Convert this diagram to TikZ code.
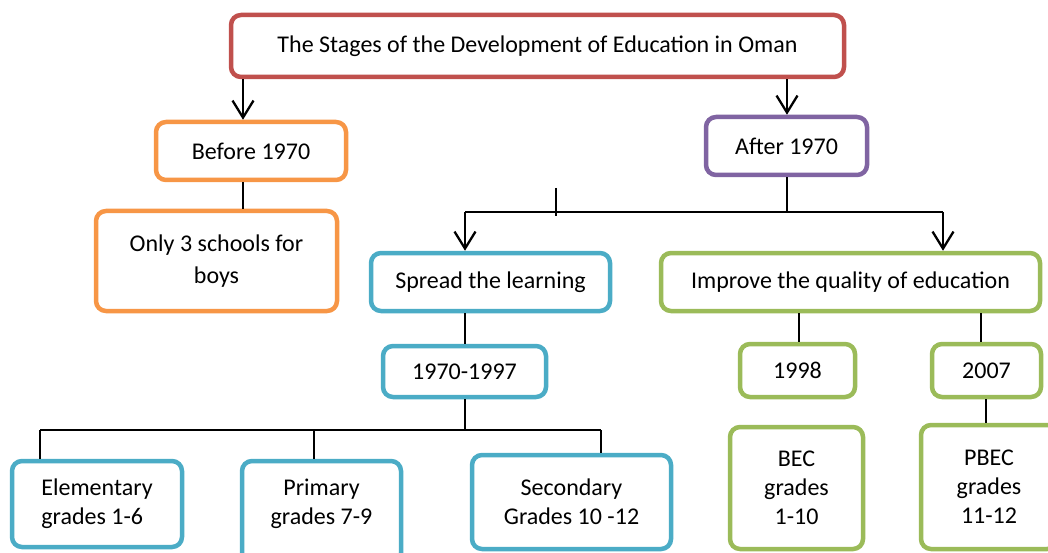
\documentclass[tikz,border=0pt]{standalone}
\usepackage{fontspec}
\setmainfont{Carlito}
\usetikzlibrary{arrows.meta}
\definecolor{cred}{HTML}{C0504D}
\definecolor{corange}{HTML}{F79646}
\definecolor{cpurple}{HTML}{8064A2}
\definecolor{cblue}{HTML}{4BACC6}
\definecolor{cgreen}{HTML}{9BBB59}
\tikzset{
  box/.style={draw, line width=4.5pt, rounded corners=10pt, fill=white, inner sep=0pt,
    align=center, font=\fontsize{24}{29}\selectfont, text=black},
  redbox/.style={box, draw=cred},
  orangebox/.style={box, draw=corange},
  purplebox/.style={box, draw=cpurple},
  bluebox/.style={box, draw=cblue},
  greenbox/.style={box, draw=cgreen},
  txt/.style={inner sep=0pt, align=center, font=\fontsize{24}{29}\selectfont},
  conn/.style={draw=black, line width=2.3pt},
  arr/.style={conn, -{Straight Barb[length=17pt,width=21pt,line width=2.3pt]}}
}
\begin{document}
\begin{tikzpicture}[x=1pt,y=-1pt]
\useasboundingbox (0,0) rectangle (1048,553);
% boxes
\node[redbox, minimum width=613, minimum height=62] (title) at (537.5,46) {The Stages of the Development of Education in Oman};
\node[orangebox, minimum width=190, minimum height=58] (bef) at (251,151) {Before 1970};
\node[orangebox, minimum width=241, minimum height=100] (only) at (216.5,261) {Only 3 schools for\\[3pt]boys};
\node[purplebox, minimum width=161, minimum height=58] (aft) at (786.5,146) {After 1970};
\node[bluebox, minimum width=239, minimum height=58] (spread) at (490.5,282) {Spread the learning};
\node[greenbox, minimum width=379, minimum height=58] (impr) at (850.5,282) {Improve the quality of education};
\node[bluebox, minimum width=163, minimum height=51] (ya) at (464.5,371.5) {1970-1997};
\node[greenbox, minimum width=115, minimum height=53] (yb) at (797.5,370.5) {1998};
\node[greenbox, minimum width=109, minimum height=53] (yc) at (986.5,370.5) {2007};
\node[bluebox, minimum width=170, minimum height=86, align=left] (elem) at (97,504) {Elementary\\grades 1-6};
\node[bluebox, minimum width=159, minimum height=102] (prim) at (321.5,512) {};
\node[txt] (primt) at (321.5,504) {Primary\\grades 7-9};
\node[bluebox, minimum width=199, minimum height=94] (sec) at (571.5,502) {Secondary\\Grades 10 -12};
\node[greenbox, minimum width=133, minimum height=122] (bec) at (796.5,488) {BEC\\grades\\1-10};
\node[greenbox, minimum width=136, minimum height=124] (pbec) at (989,487) {PBEC\\grades\\11-12};
% coordinates
\coordinate (xa) at (243,0);
\coordinate (xb) at (787,0);
\coordinate (busAL) at (465,212);
\coordinate (busAR) at (943,212);
\coordinate (tickT) at (556,188);
\coordinate (tickB) at (556,216);
\coordinate (busBL) at (40,430);
\coordinate (busBM) at (314,430);
\coordinate (busBR) at (601,430);
\coordinate (xc) at (799,0);
\coordinate (xd) at (981,0);
\coordinate (xe) at (986,0);
% connectors
\draw[arr] (title.south -| xa) -- (bef.north -| xa);
\draw[arr] (title.south -| xb) -- (aft.north -| xb);
\draw[conn] (bef.south -| xa) -- (only.north -| xa);
\draw[conn] (aft.south -| xb) -- (busAL -| xb);
\draw[conn] (busAL) -- (busAR);
\draw[arr] (busAL) -- (spread.north -| busAL);
\draw[arr] (busAR) -- (impr.north -| busAR);
\draw[conn] (tickT) -- (tickB);
\draw[conn] (spread.south -| busAL) -- (ya.north -| busAL);
\draw[conn] (ya.south -| busAL) -- (busBL -| busAL);
\draw[conn] (busBL) -- (busBR);
\draw[conn] (busBL) -- (elem.north -| busBL);
\draw[conn] (busBM) -- (prim.north -| busBM);
\draw[conn] (busBR) -- (sec.north -| busBR);
\draw[conn] (impr.south -| xc) -- (yb.north -| xc);
\draw[conn] (impr.south -| xd) -- (yc.north -| xd);
\draw[conn] (yc.south -| xe) -- (pbec.north -| xe);
\end{tikzpicture}
\end{document}
